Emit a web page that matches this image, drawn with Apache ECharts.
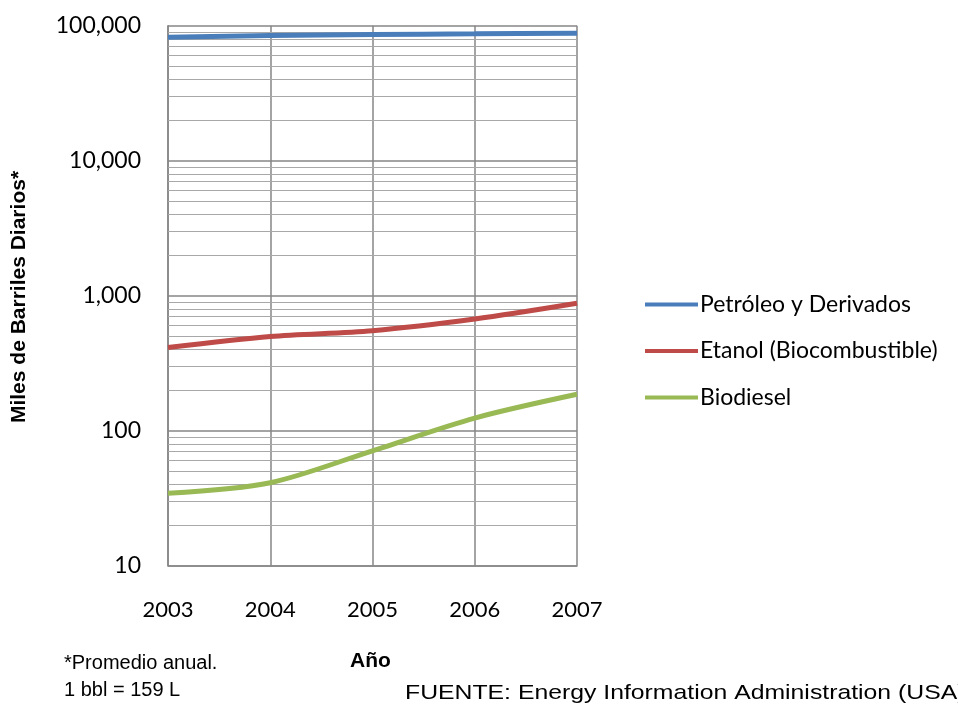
<!DOCTYPE html>
<html>
<head>
<meta charset="utf-8">
<script src="https://cdn.jsdelivr.net/npm/echarts@6/dist/echarts.min.js"></script>
<style>
html,body{margin:0;padding:0;background:#fff;overflow:hidden;}
#c{width:958px;height:705px;}
</style>
</head>
<body>
<div id="c"></div>
<script>
const years = ['2003', '2004', '2005', '2006', '2007'];
const petroleo = [82000, 84500, 86000, 87000, 88000];
const etanol = [413, 499, 550, 671, 878];
const biodiesel = [34.4, 41.2, 71, 124, 186];
const seriesNames = ['Petróleo y Derivados', 'Etanol (Biocombustible)', 'Biodiesel'];
const minorGridValues = [20,30,40,50,60,70,80,90,200,300,400,500,600,700,800,900,2000,3000,4000,5000,6000,7000,8000,9000,20000,30000,40000,50000,60000,70000,80000,90000];

const font = 'Lato, "Open Sans", sans-serif';
const sans = '"Liberation Sans", Arial, sans-serif';
const chart = echarts.init(document.getElementById('c'), null, {renderer: 'canvas'});
chart.setOption({
  backgroundColor: '#ffffff',
  animation: false,
  grid: {left: 168, right: 381, top: 25.7, bottom: 139.3, containLabel: false, outerBoundsMode: 'none'},
  legend: {
    data: seriesNames,
    orient: 'vertical',
    left: 645,
    top: 293,
    padding: 0,
    itemWidth: 53,
    itemHeight: 24,
    itemGap: 23.5,
    icon: 'path://M0,0 L53,0 L53,4 L0,4 Z',
    textStyle: {fontFamily: font, fontSize: 23, color: '#000', padding: [0,0,0,-3]},
  },
  xAxis: {
    type: 'category',
    data: years,
    boundaryGap: false,
    axisLine: {show: true, lineStyle: {color: '#868686', width: 1.5}},
    axisTick: {show: false},
    axisLabel: {margin: 33, fontFamily: font, fontSize: 22, color: '#000'},
    splitLine: {show: true, lineStyle: {color: '#868686', width: 1.5}}
  },
  yAxis: {
    type: 'log',
    logBase: 10,
    min: 10,
    max: 100000,
    splitNumber: 4,
    axisLine: {show: true, lineStyle: {color: '#868686', width: 1.5}},
    axisTick: {show: false},
    axisLabel: {margin: 27, fontFamily: font, fontSize: 23, color: '#000',
      formatter: v => Number(v).toLocaleString('en-US')},
    splitLine: {show: true, lineStyle: {color: '#868686', width: 1.5}}
  },
  series: [
    {
      name: 'grid-minor', type: 'line', data: [], silent: true, z: 1,
      markLine: {silent: true, symbol: 'none', label: {show: false},
        lineStyle: {color: '#a8a8a8', width: 1, type: 'solid'},
        emphasis: {disabled: true},
        data: minorGridValues.map(v => ({yAxis: v}))}
    },
    {name: seriesNames[0], type: 'line', data: petroleo, smooth: 0.3, showSymbol: false, symbol: 'none', z: 5,
      lineStyle: {color: '#4A7EBB', width: 5}, itemStyle: {color: '#4A7EBB'}},
    {name: seriesNames[1], type: 'line', data: etanol, smooth: 0.3, showSymbol: false, symbol: 'none', z: 5,
      lineStyle: {color: '#BE4B48', width: 5}, itemStyle: {color: '#BE4B48'}},
    {name: seriesNames[2], type: 'line', data: biodiesel, smooth: 0.3, showSymbol: false, symbol: 'none', z: 5,
      lineStyle: {color: '#98B954', width: 5}, itemStyle: {color: '#98B954'}}
  ],
  graphic: [
    {type: 'text', x: 19, y: 297, rotation: Math.PI / 2,
      style: {text: 'Miles de Barriles Diarios*', fontFamily: sans, fontWeight: 'bold', fontSize: 21, fill: '#000', align: 'center', verticalMiddle: 'middle', textVerticalAlign: 'middle'}},
    {type: 'text', left: 64, top: 653, style: {text: '*Promedio anual.', fontFamily: sans, fontSize: 20, fill: '#000'}},
    {type: 'text', left: 64, top: 680, style: {text: '1 bbl = 159 L', fontFamily: sans, fontSize: 20, fill: '#000'}},
    {type: 'text', left: 350, top: 651, style: {text: 'Año', fontFamily: sans, fontWeight: 'bold', fontSize: 21, fill: '#000'}},
    {type: 'text', x: 405, y: 683, scaleX: 1.18, style: {text: 'FUENTE: Energy Information Administration (USA)', fontFamily: sans, fontSize: 21, fill: '#000'}}
  ]
});
</script>
</body>
</html>
